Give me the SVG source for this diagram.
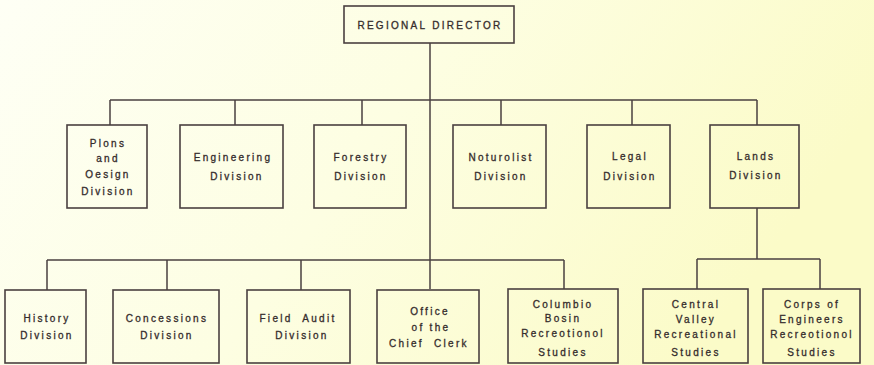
<svg xmlns="http://www.w3.org/2000/svg" width="874" height="365" viewBox="0 0 874 365">
<defs>
<linearGradient id="bg" x1="0" y1="0" x2="1" y2="0.3">
<stop offset="0" stop-color="#fefff5"/>
<stop offset="0.5" stop-color="#fdfee2"/>
<stop offset="1" stop-color="#fbfbc8"/>
</linearGradient>
<style>
.box{fill:none;stroke:#4a4040;stroke-width:1.6}
.ln{fill:none;stroke:#4a4040;stroke-width:1.5}
text{font-family:"Liberation Sans","DejaVu Sans",sans-serif;font-size:10px;letter-spacing:2.3px;fill:#352c2c;stroke:#352c2c;stroke-width:0.3;text-anchor:middle;white-space:pre}
</style>
</defs>
<rect width="874" height="365" fill="url(#bg)"/>
<g id="connectors">
<path class="ln" d="M430 43V289"/>
<path class="ln" d="M110 100H757M110 100V125M235 100V125M362 100V125M501 100V125M632 100V125M757 100V125"/>
<path class="ln" d="M47 260H564M47 260V290M167 260V290M301 260V290M564 260V289"/>
<path class="ln" d="M757 208V259M697 259H820M697 259V289M820 259V289"/>
</g>
<g id="regional-director"><rect class="box" x="344" y="6" width="170" height="37"/><text x="430" y="29">REGIONAL DIRECTOR</text></g>
<g id="plans"><rect class="box" x="67" y="125" width="80" height="83"/><text x="108" y="147">Plons</text><text x="108" y="162">and</text><text x="108" y="178">Oesign</text><text x="108" y="195">Division</text></g>
<g id="engineering"><rect class="box" x="180" y="125" width="103" height="83"/><text x="233" y="161">Engineering</text><text x="237" y="180">Division</text></g>
<g id="forestry"><rect class="box" x="314" y="125" width="92" height="83"/><text x="361" y="161">Forestry</text><text x="361" y="180">Division</text></g>
<g id="naturalist"><rect class="box" x="453" y="125" width="93" height="83"/><text x="501" y="161">Noturolist</text><text x="501" y="180">Division</text></g>
<g id="legal"><rect class="box" x="587" y="125" width="83" height="83"/><text x="630" y="160">Legal</text><text x="630" y="180">Division</text></g>
<g id="lands"><rect class="box" x="710" y="125" width="89" height="83"/><text x="756" y="160">Lands</text><text x="756" y="179">Division</text></g>
<g id="history"><rect class="box" x="5" y="290" width="81" height="73"/><text x="47" y="322">History</text><text x="47" y="339">Division</text></g>
<g id="concessions"><rect class="box" x="113" y="290" width="106" height="73"/><text x="167" y="322">Concessions</text><text x="167" y="339">Division</text></g>
<g id="field-audit"><rect class="box" x="247" y="290" width="103" height="73"/><text x="298" y="322">Field  Audit</text><text x="302" y="339">Division</text></g>
<g id="chief-clerk"><rect class="box" x="377" y="290" width="102" height="73"/><text x="430" y="315">Office</text><text x="431" y="331">of the</text><text x="429" y="347">Chief  Clerk</text></g>
<g id="columbia"><rect class="box" x="508" y="289" width="110" height="74"/><text x="563" y="308">Columbio</text><text x="563" y="322">Bosin</text><text x="563" y="337">Recreotionol</text><text x="563" y="356">Studies</text></g>
<g id="central-valley"><rect class="box" x="643" y="289" width="105" height="74"/><text x="696" y="308">Central</text><text x="696" y="323">Valley</text><text x="696" y="338">Recreational</text><text x="696" y="356">Studies</text></g>
<g id="corps"><rect class="box" x="763" y="289" width="97" height="74"/><text x="812" y="308">Corps of</text><text x="812" y="323">Engineers</text><text x="812" y="338">Recreotionol</text><text x="812" y="356">Studies</text></g>
</svg>
